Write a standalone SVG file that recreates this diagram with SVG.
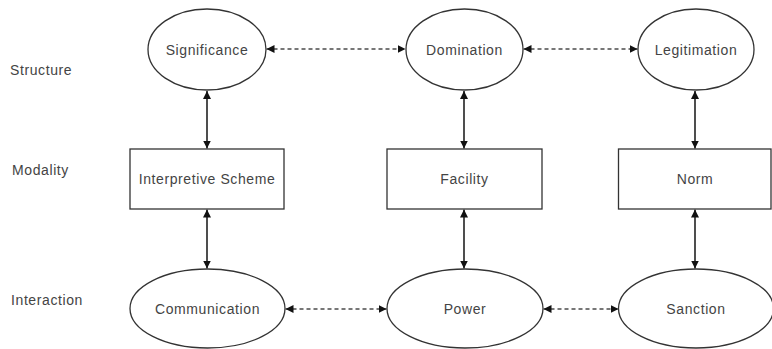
<svg xmlns="http://www.w3.org/2000/svg" width="772" height="349" viewBox="0 0 772 349">
<style>
.n{fill:#fff;stroke:#333;stroke-width:1.3}
.t{font-family:"Liberation Sans",Arial,sans-serif;font-size:14px;letter-spacing:0.6px;fill:#444;text-anchor:middle;dominant-baseline:central}
.l{font-family:"Liberation Sans",Arial,sans-serif;font-size:14px;letter-spacing:0.6px;fill:#444;dominant-baseline:central}
.s{stroke:#222;stroke-width:1.6;fill:none}
.d{stroke:#777;stroke-width:2;stroke-dasharray:4 3;fill:none}
</style>
<defs>
<marker id="ah" viewBox="0 0 10 10" refX="10" refY="5" markerWidth="8" markerHeight="8" markerUnits="userSpaceOnUse" orient="auto-start-reverse">
<path d="M0,0 L10,5 L0,10 Z" fill="#111"/>
</marker>
</defs>
<rect width="772" height="349" fill="#fff"/>
<g id="labels">
<text class="l" x="10" y="70">Structure</text>
<text class="l" x="12" y="170">Modality</text>
<text class="l" x="11" y="300">Interaction</text>
</g>
<g id="connectors">
<line class="s" x1="207" y1="91" x2="207" y2="148.5" marker-start="url(#ah)" marker-end="url(#ah)"/>
<line class="s" x1="464" y1="91" x2="464" y2="148.5" marker-start="url(#ah)" marker-end="url(#ah)"/>
<line class="s" x1="695" y1="91" x2="695" y2="148.5" marker-start="url(#ah)" marker-end="url(#ah)"/>
<line class="s" x1="207" y1="209.5" x2="207" y2="268.5" marker-start="url(#ah)" marker-end="url(#ah)"/>
<line class="s" x1="464" y1="209.5" x2="464" y2="268.5" marker-start="url(#ah)" marker-end="url(#ah)"/>
<line class="s" x1="695" y1="209.5" x2="695" y2="268.5" marker-start="url(#ah)" marker-end="url(#ah)"/>
<line class="d" x1="266.5" y1="49" x2="405.5" y2="49" marker-start="url(#ah)" marker-end="url(#ah)"/>
<line class="d" x1="523.5" y1="49" x2="637.5" y2="49" marker-start="url(#ah)" marker-end="url(#ah)"/>
<line class="d" x1="285.5" y1="309" x2="386.5" y2="309" marker-start="url(#ah)" marker-end="url(#ah)"/>
<line class="d" x1="543.5" y1="309" x2="618.5" y2="309" marker-start="url(#ah)" marker-end="url(#ah)"/>
</g>
<g id="significance">
<ellipse class="n" cx="207" cy="49.5" rx="59" ry="40.5"/>
<text class="t" x="207" y="50">Significance</text>
</g>
<g id="domination">
<ellipse class="n" cx="464.5" cy="49.5" rx="58.5" ry="40.5"/>
<text class="t" x="464.5" y="50">Domination</text>
</g>
<g id="legitimation">
<ellipse class="n" cx="696" cy="49.5" rx="58" ry="40.5"/>
<text class="t" x="696" y="50">Legitimation</text>
</g>
<g id="interpretive-scheme">
<rect class="n" x="130" y="149" width="154" height="60"/>
<text class="t" x="207" y="179">Interpretive Scheme</text>
</g>
<g id="facility">
<rect class="n" x="387" y="149" width="155" height="60"/>
<text class="t" x="464.5" y="179">Facility</text>
</g>
<g id="norm">
<rect class="n" x="618.5" y="149" width="152.5" height="60"/>
<text class="t" x="695" y="179">Norm</text>
</g>
<g id="communication">
<ellipse class="n" cx="207.5" cy="308.5" rx="77.5" ry="39.5"/>
<text class="t" x="207.5" y="309">Communication</text>
</g>
<g id="power">
<ellipse class="n" cx="465" cy="308.5" rx="78" ry="39.5"/>
<text class="t" x="465" y="309">Power</text>
</g>
<g id="sanction">
<ellipse class="n" cx="696" cy="308.5" rx="77.5" ry="39.5"/>
<text class="t" x="696" y="309">Sanction</text>
</g>
</svg>
